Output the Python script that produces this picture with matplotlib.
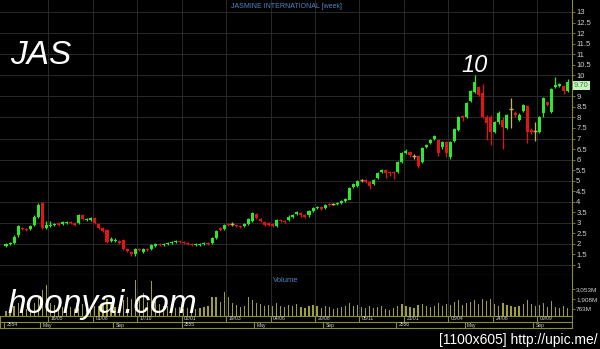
import matplotlib
matplotlib.use('Agg')
import matplotlib.pyplot as plt
import numpy as np
import pandas as pd

# weekly candles, first bar = week of 28 Feb 2011
start_week = '2011-02-28'

opens = [1.9, 2.0, 2.05, 2.4, 2.75, 2.7, 2.7, 2.9, 3.3, 3.95,
         2.75, 2.85, 2.9, 3.0, 2.95, 3.0, 3.05, 3.0, 3.0, 3.35,
         3.15, 3.15, 3.25, 2.95, 2.75, 2.65, 2.15, 2.15, 2.15, 2.2,
         1.75, 1.6, 1.5, 1.75, 1.6, 1.75, 1.75, 1.9, 2.0, 1.95,
         2.0, 2.05, 2.1, 2.15, 2.1, 2.05, 2.0, 1.95, 1.97, 2.0,
         2.05, 2.05, 2.3, 2.75, 2.7, 2.95, 2.95, 2.9, 2.85, 2.85,
         2.95, 3.1, 3.4, 3.2, 3.05, 3.0, 2.95, 2.85, 3.15, 3.1,
         3.15, 3.3, 3.4, 3.45, 3.35, 3.35, 3.55, 3.7, 3.75, 3.7,
         3.9, 3.9, 3.9, 3.95, 4.05, 4.1, 4.7, 4.75, 5.05, 5.05,
         4.95, 4.85, 5.15, 5.4, 5.5, 5.4, 5.4, 5.4, 5.9, 6.3,
         6.35, 6.15, 6.15, 5.9, 6.6, 6.8, 7.0, 6.95, 6.6, 6.85,
         6.1, 6.9, 7.4, 8.05, 8.0, 8.8, 9.2, 9.45, 9.15, 8.0,
         8.0, 7.3, 7.8, 7.9, 7.5, 8.4, 8.2, 7.9, 8.3, 8.55,
         7.4, 7.35, 7.3, 8.2, 8.75, 8.25, 9.45, 9.5, 9.5, 9.25]
closes = [2.0, 2.05, 2.35, 2.85, 2.7, 2.65, 2.85, 3.3, 3.85, 2.75,
          2.9, 2.9, 2.95, 2.9, 3.05, 3.05, 3.0, 2.9, 3.35, 3.2,
          3.2, 3.25, 3.0, 2.75, 2.6, 2.1, 2.25, 2.2, 2.05, 1.75,
          1.65, 1.5, 1.75, 1.7, 1.75, 1.72, 1.95, 2.0, 1.95, 2.0,
          2.05, 2.1, 2.15, 2.1, 2.05, 2.0, 1.95, 2.0, 2.0, 2.05,
          2.0, 2.3, 2.6, 2.65, 2.9, 2.9, 2.95, 2.85, 2.8, 2.95,
          3.2, 3.45, 3.25, 3.1, 2.9, 2.9, 2.85, 3.15, 3.1, 3.05,
          3.3, 3.35, 3.5, 3.35, 3.3, 3.55, 3.7, 3.75, 3.65, 3.85,
          3.85, 3.9, 3.95, 4.05, 4.15, 4.65, 4.85, 5.0, 5.05, 4.95,
          4.75, 5.05, 5.35, 5.5, 5.35, 5.35, 5.35, 5.9, 6.3, 6.4,
          6.2, 6.15, 5.7, 6.55, 6.7, 6.95, 7.1, 6.3, 6.85, 6.3,
          6.85, 7.45, 8.0, 7.95, 8.7, 9.25, 9.7, 9.05, 8.0, 7.75,
          7.3, 7.8, 8.2, 7.55, 8.1, 8.4, 8.1, 8.1, 8.6, 7.3,
          7.3, 7.35, 8.0, 8.9, 8.6, 9.35, 9.55, 9.6, 9.25, 9.7]
highs = [2.05, 2.1, 2.4, 2.9, 2.8, 2.75, 2.9, 3.35, 3.95, 4.0,
         3.1, 3.1, 3.0, 3.05, 3.1, 3.1, 3.1, 3.05, 3.4, 3.4,
         3.25, 3.3, 3.3, 3.0, 2.8, 2.7, 2.35, 2.3, 2.2, 2.25,
         1.8, 1.65, 1.8, 1.8, 1.8, 1.8, 2.0, 2.05, 2.05, 2.05,
         2.1, 2.15, 2.2, 2.2, 2.15, 2.1, 2.05, 2.05, 2.05, 2.1,
         2.1, 2.35, 2.65, 2.8, 2.95, 3.0, 3.05, 2.95, 2.9, 3.0,
         3.25, 3.5, 3.45, 3.25, 3.1, 3.05, 3.0, 3.2, 3.2, 3.15,
         3.35, 3.4, 3.55, 3.5, 3.4, 3.6, 3.75, 3.8, 3.8, 3.9,
         3.95, 3.95, 4.0, 4.1, 4.2, 4.7, 4.9, 5.05, 5.1, 5.1,
         5.0, 5.1, 5.4, 5.55, 5.55, 5.45, 5.45, 5.95, 6.35, 6.5,
         6.4, 6.25, 6.2, 6.6, 6.75, 7.0, 7.15, 7.0, 6.9, 6.9,
         6.9, 7.5, 8.05, 8.1, 8.75, 9.3, 10.0, 9.5, 9.6, 8.1,
         8.1, 7.85, 8.3, 8.0, 8.15, 8.9, 8.3, 8.2, 8.65, 8.6,
         7.5, 7.8, 8.05, 8.95, 8.8, 9.4, 9.9, 9.65, 9.55, 9.8]
lows = [1.85, 1.95, 2.0, 2.35, 2.65, 2.6, 2.65, 2.85, 3.25, 2.7,
        2.7, 2.8, 2.85, 2.85, 2.9, 2.95, 2.95, 2.85, 2.95, 3.15,
        3.1, 3.1, 2.95, 2.7, 2.55, 2.05, 2.1, 2.1, 2.0, 1.7,
        1.6, 1.45, 1.45, 1.65, 1.55, 1.68, 1.7, 1.85, 1.9, 1.9,
        1.95, 2.0, 2.05, 2.05, 2.0, 1.95, 1.9, 1.9, 1.92, 1.95,
        1.95, 2.0, 2.25, 2.6, 2.65, 2.85, 2.85, 2.8, 2.75, 2.8,
        2.9, 3.05, 3.2, 3.05, 2.85, 2.85, 2.8, 2.8, 3.05, 3.0,
        3.1, 3.25, 3.35, 3.3, 3.25, 3.3, 3.5, 3.65, 3.6, 3.65,
        3.8, 3.85, 3.85, 3.9, 4.0, 4.45, 4.65, 4.7, 4.95, 4.9,
        4.6, 4.8, 5.1, 5.35, 5.15, 5.2, 5.1, 5.35, 5.85, 6.25,
        6.1, 6.05, 5.6, 5.85, 6.55, 6.75, 6.95, 6.15, 6.5, 6.1,
        6.05, 6.85, 7.35, 7.85, 7.95, 8.75, 9.15, 9.0, 7.95, 6.95,
        6.7, 7.25, 7.7, 6.5, 7.45, 7.5, 8.0, 7.85, 8.25, 6.8,
        7.2, 6.9, 7.25, 8.0, 8.55, 8.2, 9.4, 9.45, 9.1, 9.2]
# weekly volume, millions of shares
volume_m = [600, 700, 1100, 1500, 900, 800, 700, 1500, 2200, 3000,
            3500, 1500, 1300, 1100, 1000, 900, 1000, 800, 900, 1400,
            1200, 900, 1100, 1200, 1300, 2000, 1500, 1000, 900, 1800,
            2200, 2000, 4100, 2300, 2600, 1600, 4000, 2000, 1400, 1200,
            1100, 1000, 900, 1000, 800, 900, 700, 800, 900, 1000,
            1200, 2200, 2200, 1600, 2800, 2200, 1500, 1300, 1000, 1200,
            2200, 1800, 1500, 1400, 1200, 1300, 1100, 1500, 1200, 1000,
            1300, 1200, 1400, 1000, 900, 1100, 1300, 1200, 900, 1100,
            1000, 800, 900, 1000, 1200, 1500, 1200, 1300, 1000, 900,
            1100, 900, 1000, 1200, 800, 700, 900, 1100, 1400, 1200,
            1000, 900, 1300, 1400, 1100, 1000, 1200, 1500, 1100, 1400,
            1300, 1600, 1800, 1300, 1500, 1600, 1800, 1400, 1900, 1700,
            1900, 1400, 1200, 1500, 1300, 1200, 1000, 1100, 1400, 1800,
            1400, 1200, 1300, 1500, 1000, 1700, 1000, 900, 1100, 900]

price_ticks = np.arange(1, 13.01, 0.5)
vol_ticks = [763, 1908, 3053]
vol_labels = ['763M', '1,908M', '3,053M']
label_every = 11   # weeks between the dd/mm labels
month_labels = {5: 'May', 9: 'Sep'}
peak_label = '10'
last_label = '%.2f' % closes[-1]

up_c = '#2ee82e'
dn_c = '#e51414'
doji_c = '#c8b450'
vol_c = '#a0a032'
axis_c = '#8a8a38'
grid_c = '#2a2a2a'
txt_c = '#d0d0d0'
blue_c = '#4f86c6'

plt.rcParams['font.family'] = ['Liberation Sans', 'DejaVu Sans']

o = np.array(opens)
c = np.array(closes)
hi = np.array(highs)
lo = np.array(lows)
n = len(c)
x = np.arange(n)
dates = pd.date_range(start_week, periods=n, freq='W-MON')

up = c > o
dn = c < o
dj = c == o

W, H = 600, 349
fig = plt.figure(figsize=(6, 3.49), dpi=100, facecolor='black')

def px_axes(x0, y0, x1, y1):
    a = fig.add_axes([x0 / W, 1 - y1 / H, (x1 - x0) / W, (y1 - y0) / H])
    a.set_facecolor('black')
    a.set_xlim(-1.485, 140.1)
    return a

ax = px_axes(0, 0, 572, 275)
axv = px_axes(0, 275, 572, 316)
axd = px_axes(0, 316, 572, 328)

# date separators
seps = x[label_every::label_every] - 0.5
mon_idx = [0] + [i for i in range(1, n)
                 if dates[i].month != dates[i - 1].month and dates[i].month in (1, 5, 9)]

# price panel
ax.set_ylim(0.526, 13.569)
for yy in price_ticks[price_ticks % 1 == 0]:
    ax.axhline(yy, color=grid_c, lw=0.7, zorder=0)
for s in seps:
    ax.axvline(s, color=grid_c, lw=0.7, zorder=0)

ax.vlines(x[up], lo[up], hi[up], color=up_c, lw=0.9)
ax.vlines(x[dn], lo[dn], hi[dn], color=dn_c, lw=0.9)
ax.vlines(x[dj], lo[dj], hi[dj], color=doji_c, lw=0.9)
ax.bar(x[up], c[up] - o[up], bottom=o[up], width=0.75, color=up_c)
ax.bar(x[dn], c[dn] - o[dn], bottom=o[dn], width=0.75, color=dn_c)
ax.hlines(o[dj], x[dj] - 0.45, x[dj] + 0.45, color=doji_c, lw=1.0)

for side in ['top', 'left']:
    ax.spines[side].set_visible(False)
ax.spines['right'].set_color(axis_c)
ax.spines['bottom'].set_color(axis_c)
ax.yaxis.tick_right()
ax.set_yticks(price_ticks)
# the tick next to the last-price box is hidden by it
ax.set_yticklabels(['' if abs(t - c[-1]) < 0.25 else '%g' % t for t in price_ticks])
ax.tick_params(axis='y', colors=axis_c, labelcolor=txt_c, labelsize=5.5,
               length=2, width=0.6, pad=1)
ax.set_xticks([])
ax.text(0.5, 1 - 6 / 275, 'JASMINE INTERNATIONAL [week]', transform=ax.transAxes,
        ha='center', va='center', color=blue_c, fontsize=5)

pk = int(np.argmax(hi))
ax.annotate(peak_label, (x[pk], hi[pk]), xytext=(0, 3), textcoords='offset pixels',
            ha='center', va='baseline', color='white', fontsize=17, style='italic')
ax.annotate(last_label, (1, c[-1]), xycoords=('axes fraction', 'data'),
            xytext=(2, -4), textcoords='offset pixels', ha='left', va='center',
            fontsize=5.5, color='#3c8a3c', annotation_clip=False,
            bbox=dict(boxstyle='square,pad=0.15', fc='#c8f2c0', ec='none'))

# volume panel
axv.set_ylim(0, 4694)
for s in seps:
    axv.axvline(s, color=grid_c, lw=0.7, zorder=0)
axv.bar(x, volume_m, width=0.3, color=vol_c)
for side in ['top', 'left', 'bottom']:
    axv.spines[side].set_visible(False)
axv.spines['right'].set_color(axis_c)
axv.yaxis.tick_right()
axv.set_yticks(vol_ticks)
axv.set_yticklabels(vol_labels)
axv.tick_params(axis='y', colors=axis_c, labelcolor=txt_c, labelsize=4.6,
                length=2, width=0.6, pad=1)
axv.set_xticks([])
axv.text(0.5, 1 - 5 / 41, 'Volume', transform=axv.transAxes, ha='center',
         va='center', color=blue_c, fontsize=5.5)

# date rows
axd.set_ylim(0, 2)
for sp in axd.spines.values():
    sp.set_color(axis_c)
    sp.set_linewidth(0.8)
axd.set_xticks([])
axd.set_yticks([])
axd.axhline(1, color=axis_c, lw=0.8)
axd.vlines(seps, 1, 2, color=axis_c, lw=0.8)
for s in seps:
    i = int(s + 0.5)
    axd.text(s + 0.6, 1.5, dates[i].strftime('%d/%m'), ha='left', va='center',
             color=txt_c, fontsize=3.6)
for i in mon_idx:
    axd.vlines(i - 0.5, 0, 1, color=axis_c, lw=0.8)
    m = dates[i].month
    lab = month_labels.get(m, str(dates[i].year + 543))
    axd.text(i + 0.1, 0.5, lab, ha='left', va='center', color=txt_c, fontsize=3.6)

# watermarks
fig.text(10 / W, 1 - 64 / H, 'JAS', color='white', fontsize=24, style='italic',
         ha='left', va='baseline')
fig.text(7 / W, 1 - 313 / H, 'hoonyai.com', color='white', fontsize=24,
         style='italic', ha='left', va='baseline')
fig.text(598 / W, 1 - 344 / H, '[1100x605] http://upic.me/', color='white',
         fontsize=10, ha='right', va='baseline')

fig.savefig('out.png', dpi=100, facecolor='black')
